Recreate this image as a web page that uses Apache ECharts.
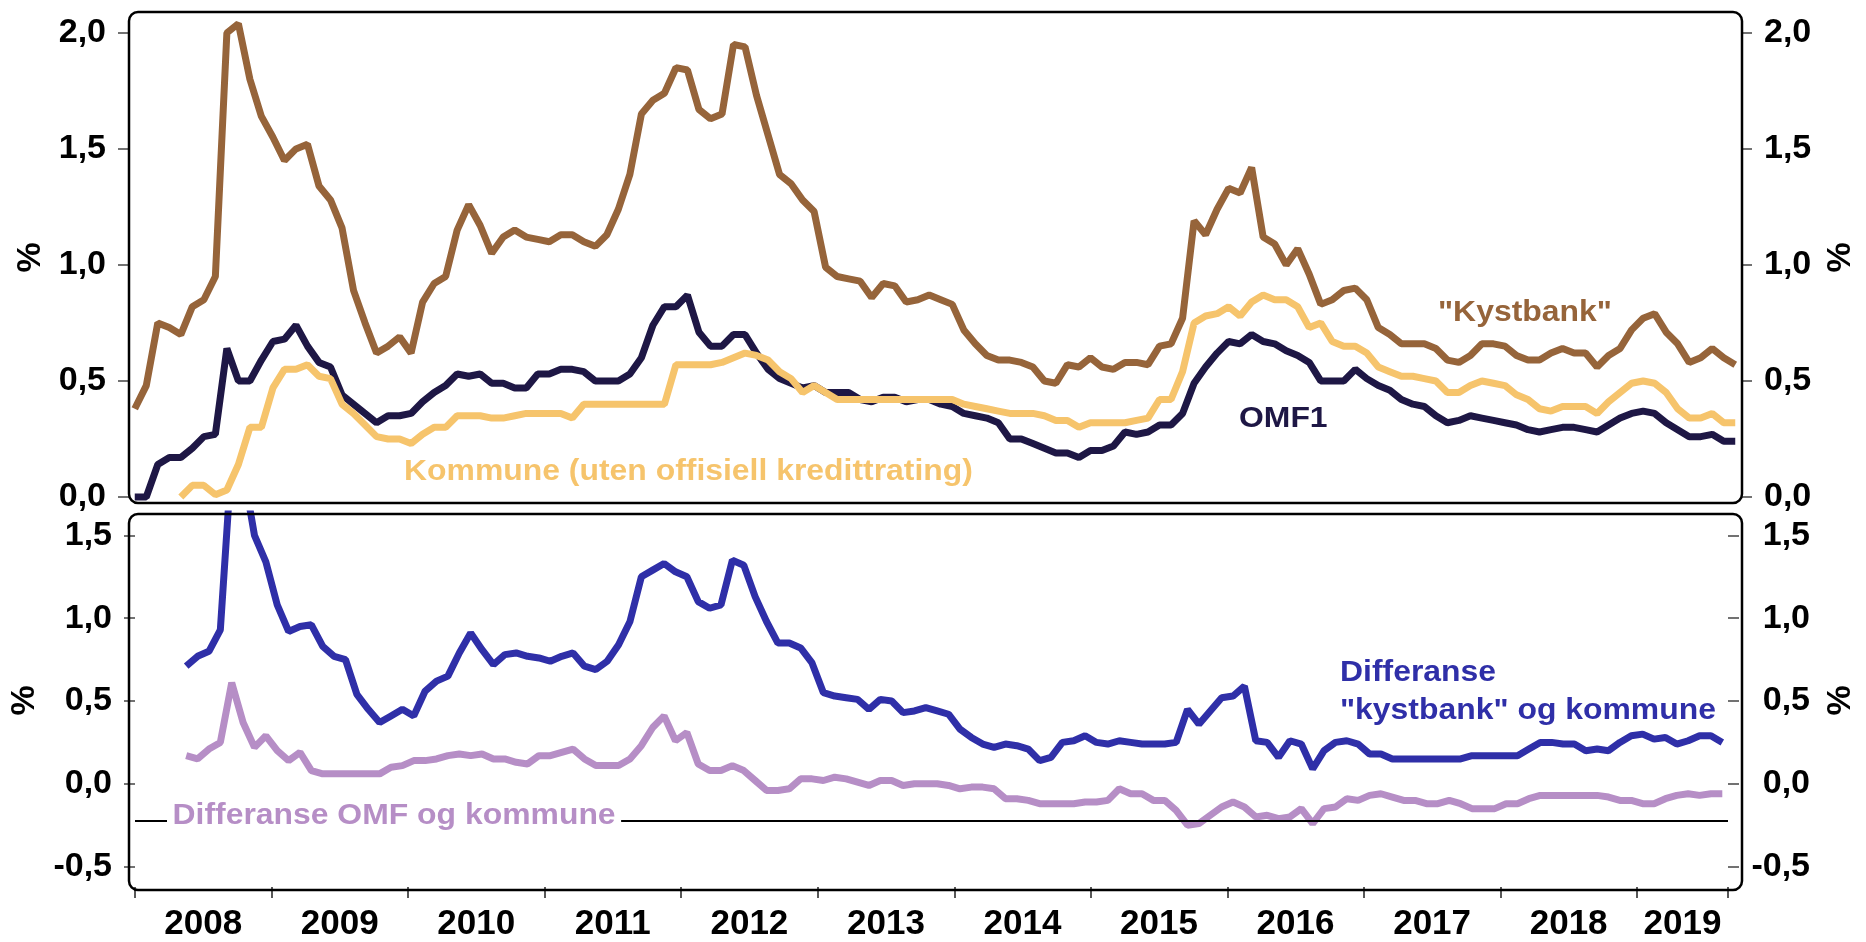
<!DOCTYPE html>
<html>
<head>
<meta charset="utf-8">
<script src="https://cdn.jsdelivr.net/npm/echarts@6/dist/echarts.min.js"></script>
<style>
  html, body { margin: 0; padding: 0; background: #fff; }
  #spreads { width: 1866px; height: 942px; }
</style>
</head>
<body>
<div id="spreads"></div>
<script>
// months jan 2008 - aug 2019
var years = ['2008','2009','2010','2011','2012','2013','2014','2015','2016','2017','2018','2019'];
var months = [];
for (var i = 0; i < 140; i++) {
    months.push(years[Math.floor(i / 12)] + '-' + ('0' + (i % 12 + 1)).slice(-2));
}

var kystbank = [
    0.38, 0.48, 0.75, 0.73, 0.70, 0.82, 0.85, 0.95, 2.00, 2.04,
    1.80, 1.64, 1.55, 1.45, 1.50, 1.52, 1.34, 1.28, 1.16, 0.89,
    0.75, 0.62, 0.65, 0.69, 0.62, 0.84, 0.92, 0.95, 1.15, 1.26,
    1.17, 1.05, 1.12, 1.15, 1.12, 1.11, 1.10, 1.13, 1.13, 1.10,
    1.08, 1.13, 1.24, 1.39, 1.65, 1.71, 1.74, 1.85, 1.84, 1.67,
    1.63, 1.65, 1.95, 1.94, 1.73, 1.56, 1.39, 1.35, 1.28, 1.23,
    0.99, 0.95, 0.94, 0.93, 0.86, 0.92, 0.91, 0.84, 0.85, 0.87,
    0.85, 0.83, 0.72, 0.66, 0.61, 0.59, 0.59, 0.58, 0.56, 0.50,
    0.49, 0.57, 0.56, 0.60, 0.56, 0.55, 0.58, 0.58, 0.57, 0.65,
    0.66, 0.77, 1.19, 1.13, 1.24, 1.33, 1.31, 1.42, 1.12, 1.09,
    1.00, 1.07, 0.96, 0.83, 0.85, 0.89, 0.90, 0.85, 0.73, 0.70,
    0.66, 0.66, 0.66, 0.64, 0.59, 0.58, 0.61, 0.66, 0.66, 0.65,
    0.61, 0.59, 0.59, 0.62, 0.64, 0.62, 0.62, 0.56, 0.61, 0.64,
    0.72, 0.77, 0.79, 0.71, 0.66, 0.58, 0.60, 0.64, 0.60, 0.57
];
var omf1 = [
    0.00, 0.00, 0.14, 0.17, 0.17, 0.21, 0.26, 0.27, 0.64, 0.50,
    0.50, 0.59, 0.67, 0.68, 0.74, 0.65, 0.58, 0.56, 0.44, 0.40,
    0.36, 0.32, 0.35, 0.35, 0.36, 0.41, 0.45, 0.48, 0.53, 0.52,
    0.53, 0.49, 0.49, 0.47, 0.47, 0.53, 0.53, 0.55, 0.55, 0.54,
    0.50, 0.50, 0.50, 0.53, 0.60, 0.74, 0.82, 0.82, 0.87, 0.71,
    0.65, 0.65, 0.70, 0.70, 0.62, 0.55, 0.51, 0.49, 0.47, 0.48,
    0.45, 0.45, 0.45, 0.42, 0.41, 0.43, 0.43, 0.41, 0.42, 0.42,
    0.40, 0.39, 0.36, 0.35, 0.34, 0.32, 0.25, 0.25, 0.23, 0.21,
    0.19, 0.19, 0.17, 0.20, 0.20, 0.22, 0.28, 0.27, 0.28, 0.31,
    0.31, 0.36, 0.49, 0.56, 0.62, 0.67, 0.66, 0.70, 0.67, 0.66,
    0.63, 0.61, 0.58, 0.50, 0.50, 0.50, 0.55, 0.51, 0.48, 0.46,
    0.42, 0.40, 0.39, 0.35, 0.32, 0.33, 0.35, 0.34, 0.33, 0.32,
    0.31, 0.29, 0.28, 0.29, 0.30, 0.30, 0.29, 0.28, 0.31, 0.34,
    0.36, 0.37, 0.36, 0.32, 0.29, 0.26, 0.26, 0.27, 0.24, 0.24
];
var kommune = [
    null, null, null, null, 0.00, 0.05, 0.05, 0.01, 0.03, 0.14,
    0.30, 0.30, 0.47, 0.55, 0.55, 0.57, 0.52, 0.51, 0.40, 0.36,
    0.31, 0.26, 0.25, 0.25, 0.23, 0.27, 0.30, 0.30, 0.35, 0.35,
    0.35, 0.34, 0.34, 0.35, 0.36, 0.36, 0.36, 0.36, 0.34, 0.40,
    0.40, 0.40, 0.40, 0.40, 0.40, 0.40, 0.40, 0.57, 0.57, 0.57,
    0.57, 0.58, 0.60, 0.62, 0.61, 0.59, 0.54, 0.51, 0.45, 0.48,
    0.45, 0.42, 0.42, 0.42, 0.42, 0.42, 0.42, 0.42, 0.42, 0.42,
    0.42, 0.42, 0.40, 0.39, 0.38, 0.37, 0.36, 0.36, 0.36, 0.35,
    0.33, 0.33, 0.30, 0.32, 0.32, 0.32, 0.32, 0.33, 0.34, 0.42,
    0.42, 0.54, 0.75, 0.78, 0.79, 0.82, 0.78, 0.84, 0.87, 0.85,
    0.85, 0.82, 0.73, 0.75, 0.67, 0.65, 0.65, 0.62, 0.56, 0.54,
    0.52, 0.52, 0.51, 0.50, 0.45, 0.45, 0.48, 0.50, 0.49, 0.48,
    0.44, 0.42, 0.38, 0.37, 0.39, 0.39, 0.39, 0.36, 0.41, 0.45,
    0.49, 0.50, 0.49, 0.45, 0.38, 0.34, 0.34, 0.36, 0.32, 0.32
];
var diffKystbank = [
    null, null, null, null, 0.71, 0.77, 0.80, 0.93, 1.97, 1.90,
    1.50, 1.34, 1.08, 0.92, 0.95, 0.96, 0.83, 0.77, 0.75, 0.54,
    0.45, 0.37, 0.41, 0.45, 0.41, 0.56, 0.62, 0.65, 0.79, 0.91,
    0.81, 0.72, 0.78, 0.79, 0.77, 0.76, 0.74, 0.77, 0.79, 0.71,
    0.69, 0.74, 0.84, 0.98, 1.25, 1.29, 1.33, 1.28, 1.25, 1.10,
    1.06, 1.08, 1.35, 1.32, 1.13, 0.98, 0.85, 0.85, 0.82, 0.73,
    0.55, 0.53, 0.52, 0.51, 0.45, 0.51, 0.50, 0.43, 0.44, 0.46,
    0.44, 0.42, 0.33, 0.28, 0.24, 0.22, 0.24, 0.23, 0.21, 0.14,
    0.16, 0.25, 0.26, 0.29, 0.25, 0.24, 0.26, 0.25, 0.24, 0.24,
    0.24, 0.25, 0.45, 0.36, 0.44, 0.52, 0.53, 0.59, 0.26, 0.25,
    0.16, 0.26, 0.24, 0.09, 0.20, 0.25, 0.26, 0.24, 0.18, 0.18,
    0.15, 0.15, 0.15, 0.15, 0.15, 0.15, 0.15, 0.17, 0.17, 0.17,
    0.17, 0.17, 0.21, 0.25, 0.25, 0.24, 0.24, 0.20, 0.21, 0.20,
    0.25, 0.29, 0.30, 0.27, 0.28, 0.24, 0.26, 0.29, 0.29, 0.25
];
var diffOmf = [
    null, null, null, null, 0.17, 0.15, 0.21, 0.25, 0.61, 0.37,
    0.22, 0.29, 0.20, 0.14, 0.19, 0.08, 0.06, 0.06, 0.06, 0.06,
    0.06, 0.06, 0.10, 0.11, 0.14, 0.14, 0.15, 0.17, 0.18, 0.17,
    0.18, 0.15, 0.15, 0.13, 0.12, 0.17, 0.17, 0.19, 0.21, 0.15,
    0.11, 0.11, 0.11, 0.15, 0.23, 0.34, 0.41, 0.26, 0.31, 0.12,
    0.08, 0.08, 0.11, 0.08, 0.02, -0.04, -0.04, -0.03, 0.03, 0.03,
    0.02, 0.04, 0.03, 0.01, -0.01, 0.02, 0.02, -0.01, 0.00, 0.00,
    0.00, -0.01, -0.03, -0.02, -0.02, -0.03, -0.09, -0.09, -0.10, -0.12,
    -0.12, -0.12, -0.12, -0.11, -0.11, -0.10, -0.03, -0.06, -0.06, -0.10,
    -0.10, -0.16, -0.25, -0.24, -0.19, -0.14, -0.11, -0.14, -0.20, -0.19,
    -0.21, -0.20, -0.15, -0.24, -0.15, -0.14, -0.09, -0.10, -0.07, -0.06,
    -0.08, -0.10, -0.10, -0.12, -0.12, -0.10, -0.12, -0.15, -0.15, -0.15,
    -0.12, -0.12, -0.09, -0.07, -0.07, -0.07, -0.07, -0.07, -0.07, -0.08,
    -0.10, -0.10, -0.12, -0.12, -0.09, -0.07, -0.06, -0.07, -0.06, -0.06
];
var topTicks = [0, 0.5, 1, 1.5, 2];
var bottomTicks = [-0.5, 0, 0.5, 1, 1.5];
var refLine = -0.22;

var FONT = '"Liberation Sans", Arial, sans-serif';
var BROWN = '#96643a', NAVY = '#1e1745', YELLOW = '#f6c46c', BLUE = '#2f2fa8', PURPLE = '#b68ec6';
var LW = 7;

// panel layout
var left = 129, right = 124;
var top1 = 12, h1 = 491;
var top2 = 514, h2 = 376;

function comma(v) {
    return v.toFixed(1).replace('.', ',');
}

function yAxis(grid, pos, min, max, ticks, labelExtra, gap) {
    return {
        type: 'value', gridIndex: grid, position: pos, min: min, max: max,
        splitLine: {show: false},
        axisLine: {show: false},
        axisTick: {show: true, length: 11, customValues: ticks, lineStyle: {color: '#444', width: 1.5}},
        axisLabel: Object.assign({
            customValues: ticks, formatter: comma, color: '#000',
            fontSize: 34, fontWeight: 'bold', fontFamily: FONT, margin: 23
        }, labelExtra || {}),
        name: '%', nameLocation: 'middle', nameRotate: 90, nameGap: gap,
        nameTextStyle: {fontSize: 34, fontWeight: 'bold', color: '#000', fontFamily: FONT}
    };
}

function annotation(text, x, y, color, extra) {
    return Object.assign({
        type: 'text', x: x, y: y, z: 100, scaleX: 1.1,
        style: {text: text, fill: color, font: 'bold 29px ' + FONT, verticalAlign: 'middle', lineHeight: 38}
    }, extra || {});
}

var spreadsChart = echarts.init(document.getElementById('spreads'));
option = {
    animation: false,
    backgroundColor: '#fff',
    grid: [
        {left: left, right: right, top: top1, height: h1},
        {left: left, right: right, top: top2, height: h2}
    ],
    xAxis: [
        {type: 'category', gridIndex: 0, data: months, boundaryGap: true, show: false},
        {
            type: 'category', gridIndex: 1, data: months, boundaryGap: true,
            axisLine: {show: false, onZero: false},
            axisTick: {
                show: true, length: 11, lineStyle: {color: '#222', width: 1.5},
                interval: function (idx) { return idx % 12 === 0; }
            },
            axisLabel: {
                interval: function (idx) { return idx % 12 === 6 || idx === 136; },
                formatter: function (v, idx) { return years[Math.floor(idx / 12)]; },
                color: '#000', fontSize: 35, fontWeight: 'bold', fontFamily: FONT,
                margin: 20, padding: [0, 11.5, 0, 0]
            }
        }
    ],
    yAxis: [
        yAxis(0, 'left', -0.026, 2.09, topTicks, null, 78),
        yAxis(0, 'right', -0.026, 2.09, topTicks, null, 83),
        yAxis(1, 'left', -0.623, 1.629, bottomTicks, null, 93),
        yAxis(1, 'right', -0.623, 1.629, bottomTicks, {align: 'right', margin: 82}, 96)
    ],
    series: [
        {name: '"Kystbank"', type: 'line', xAxisIndex: 0, yAxisIndex: 0, data: kystbank,
            showSymbol: false, lineStyle: {color: BROWN, width: LW}, itemStyle: {color: BROWN}},
        {name: 'OMF1', type: 'line', xAxisIndex: 0, yAxisIndex: 0, data: omf1,
            showSymbol: false, lineStyle: {color: NAVY, width: LW}, itemStyle: {color: NAVY}},
        {name: 'Kommune (uten offisiell kredittrating)', type: 'line', xAxisIndex: 0, yAxisIndex: 0, data: kommune,
            showSymbol: false, lineStyle: {color: YELLOW, width: LW}, itemStyle: {color: YELLOW}},
        {name: 'Differanse "kystbank" og kommune', type: 'line', xAxisIndex: 1, yAxisIndex: 2, data: diffKystbank,
            showSymbol: false, lineStyle: {color: BLUE, width: LW}, itemStyle: {color: BLUE}},
        {name: 'Differanse OMF og kommune', type: 'line', xAxisIndex: 1, yAxisIndex: 2, data: diffOmf,
            showSymbol: false, lineStyle: {color: PURPLE, width: LW}, itemStyle: {color: PURPLE},
            markLine: {
                silent: true, symbol: ['none', 'none'], label: {show: false},
                lineStyle: {color: '#000', width: 2, type: 'solid'},
                data: [{yAxis: refLine}]
            }}
    ],
    graphic: [
        {type: 'rect', z: 90, shape: {x: left, y: top1, width: 1866 - left - right, height: h1, r: 9},
            style: {fill: null, stroke: '#000', lineWidth: 2.5}},
        {type: 'rect', z: 90, shape: {x: left, y: top2, width: 1866 - left - right, height: h2, r: 9},
            style: {fill: null, stroke: '#000', lineWidth: 2.5}},
        annotation('Kommune (uten offisiell kredittrating)', 404, 472, YELLOW),
        annotation('OMF1', 1239, 419, NAVY),
        annotation('"Kystbank"', 1438, 313, BROWN),
        annotation('Differanse\n"kystbank" og kommune', 1340, 692, BLUE),
        annotation('Differanse OMF og kommune', 167, 816, PURPLE, {
            style: {text: 'Differanse OMF og kommune', fill: PURPLE, font: 'bold 29px ' + FONT,
                verticalAlign: 'middle', backgroundColor: '#fff', padding: [2, 5, 2, 5]}
        })
    ]
};
spreadsChart.setOption(option);
</script>
</body>
</html>
